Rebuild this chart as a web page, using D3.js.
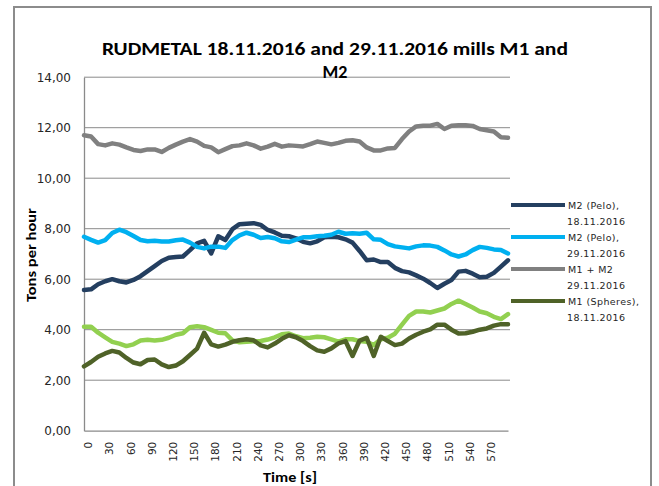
<!DOCTYPE html>
<html><head><meta charset="utf-8">
<script src="https://cdn.jsdelivr.net/npm/d3@7"></script>
<style>
html,body{margin:0;padding:0;background:#fff;}
svg{display:block;}
</style></head>
<body>
<svg id="chart" width="659" height="486"></svg>
<script>
// ---- data ----
const timeSec = [0,10,20,30,40,50,60,70,80,90,100,110,120,130,140,150,160,170,180,190,200,210,220,230,240,250,260,270,280,290,300,310,320,330,340,350,360,370,380,390,400,410,420,430,440,450,460,470,480,490,500,510,520,530,540,550,560,570,580,590,600];
const xTickLabels = [0,30,60,90,120,150,180,210,240,270,300,330,360,390,420,450,480,510,540,570];
const yTickValues = [0,2,4,6,8,10,12,14];

const m2Pelo1811 = [5.57,5.60,5.80,5.92,6.00,5.92,5.87,5.97,6.12,6.32,6.52,6.72,6.85,6.88,6.90,7.15,7.42,7.52,7.02,7.70,7.55,7.98,8.18,8.20,8.22,8.15,7.95,7.85,7.72,7.70,7.62,7.48,7.42,7.50,7.66,7.68,7.66,7.58,7.45,7.12,6.75,6.78,6.68,6.68,6.45,6.32,6.27,6.15,6.02,5.85,5.65,5.82,5.97,6.30,6.33,6.22,6.08,6.10,6.25,6.50,6.75];
const m2Pelo2911 = [7.68,7.56,7.45,7.55,7.83,7.96,7.86,7.71,7.55,7.50,7.52,7.49,7.49,7.54,7.57,7.45,7.28,7.22,7.29,7.29,7.24,7.55,7.74,7.84,7.76,7.63,7.67,7.62,7.50,7.47,7.57,7.66,7.66,7.70,7.72,7.76,7.88,7.80,7.82,7.80,7.84,7.58,7.56,7.39,7.30,7.26,7.22,7.30,7.34,7.33,7.28,7.14,6.98,6.90,6.98,7.15,7.28,7.24,7.18,7.16,7.02];
const m1m2_2911 = [11.70,11.65,11.35,11.30,11.38,11.33,11.22,11.12,11.08,11.14,11.14,11.04,11.20,11.33,11.45,11.55,11.45,11.28,11.22,11.03,11.15,11.27,11.30,11.38,11.30,11.17,11.25,11.36,11.25,11.30,11.28,11.26,11.35,11.45,11.40,11.34,11.40,11.48,11.50,11.45,11.22,11.10,11.10,11.18,11.20,11.55,11.85,12.05,12.08,12.08,12.15,11.95,12.08,12.10,12.10,12.07,11.95,11.90,11.85,11.62,11.60];
const m1Spheres1811 = [2.55,2.72,2.93,3.06,3.16,3.10,2.88,2.70,2.63,2.80,2.82,2.63,2.52,2.58,2.75,3.00,3.25,3.88,3.42,3.33,3.41,3.52,3.58,3.62,3.58,3.38,3.30,3.45,3.64,3.78,3.70,3.55,3.35,3.18,3.13,3.26,3.46,3.55,2.96,3.57,3.68,2.96,3.72,3.55,3.39,3.45,3.65,3.80,3.92,4.01,4.20,4.20,4.00,3.85,3.86,3.92,4.00,4.05,4.16,4.22,4.22];
const m1_2911 = [4.12,4.12,3.88,3.70,3.52,3.45,3.35,3.42,3.57,3.60,3.57,3.60,3.68,3.80,3.86,4.10,4.14,4.10,3.99,3.88,3.86,3.58,3.50,3.52,3.54,3.55,3.61,3.70,3.82,3.85,3.74,3.66,3.68,3.72,3.70,3.62,3.53,3.62,3.62,3.55,3.52,3.39,3.62,3.68,3.84,4.20,4.55,4.72,4.72,4.68,4.76,4.84,5.02,5.15,5.02,4.88,4.72,4.65,4.51,4.42,4.62];

const seriesNames = [["M2 (Pelo),","18.11.2016"],["M2 (Pelo),","29.11.2016"],["M1 + M2","29.11.2016"],["M1 (Spheres),","18.11.2016"]];
const seriesColors = ["#243F60","#00B0F0","#808080","#4F6228"];
const extraColor = "#92D050";
const titleLines = ["RUDMETAL 18.11.2016 and 29.11.2016 mills M1 and","M2"];

// ---- drawing ----
const svg = d3.select("#chart");
const L = 84, R = 508, T = 77.2, B = 430.7;

// outer frame
svg.append("rect").attr("x",14).attr("y",7).attr("width",637).attr("height",500)
  .attr("fill","none").attr("stroke","#8c8c8c").attr("stroke-width",2);

const x = d3.scaleLinear().domain([0,600]).range([L,R]);
const y = d3.scaleLinear().domain([0,14]).range([B,T]);

// gridlines
svg.append("g").selectAll("line").data(yTickValues.filter(v=>v>0)).join("line")
  .attr("x1",L).attr("x2",R+2).attr("y1",d=>y(d)).attr("y2",d=>y(d))
  .attr("stroke","#8a8a8a").attr("stroke-width",1);

// y axis
const fmt = v => d3.format(".2f")(v).replace(".",",");
const yAxis = svg.append("g").attr("transform",`translate(${L},0)`)
  .call(d3.axisLeft(y).tickValues(yTickValues).tickFormat(fmt).tickSize(0).tickPadding(13));
yAxis.select(".domain").attr("stroke","#8a8a8a").attr("stroke-width",1.3);
yAxis.selectAll("text").attr("font-family","DejaVu Sans, Verdana, sans-serif").attr("font-size",12).attr("fill","#262626");

// x axis
const xAxis = svg.append("g").attr("transform",`translate(0,${B})`)
  .call(d3.axisBottom(x).tickValues(xTickLabels).tickFormat(d=>d).tickSize(0).tickSizeOuter(0));
xAxis.select(".domain").attr("stroke","#8a8a8a").attr("stroke-width",1.3);
xAxis.selectAll(".tick text")
  .attr("font-family","DejaVu Sans, Verdana, sans-serif").attr("font-size",10.5).attr("fill","#262626")
  .attr("text-anchor","end").attr("y",0).attr("dy","0.35em")
  .attr("transform","translate(4,11) rotate(-90)");

// lines
const line = d3.line().x((d,i)=>x(timeSec[i])).y(d=>y(d));
const drawOrder = [
  {data:m1_2911,color:extraColor},
  {data:m2Pelo1811,color:seriesColors[0]},
  {data:m2Pelo2911,color:seriesColors[1]},
  {data:m1m2_2911,color:seriesColors[2]},
  {data:m1Spheres1811,color:seriesColors[3]}
];
svg.append("g").selectAll("path").data(drawOrder).join("path")
  .attr("d",d=>line(d.data)).attr("fill","none").attr("stroke",d=>d.color)
  .attr("stroke-width",4.5).attr("stroke-linejoin","round").attr("stroke-linecap","round");

// title
svg.append("g").selectAll("text").data(titleLines).join("text")
  .attr("x",335).attr("y",(d,i)=>55+i*23).attr("text-anchor","middle")
  .attr("font-family","Carlito, 'Liberation Sans', Arial, sans-serif").attr("font-weight","bold")
  .attr("font-size",18).attr("fill","#000")
  .attr("textLength",(d,i)=>i===0?466:null).attr("lengthAdjust","spacingAndGlyphs")
  .text(d=>d);

// axis titles
svg.append("text").attr("transform","translate(36,255) rotate(-90)").attr("text-anchor","middle")
  .attr("font-family","Carlito, 'Liberation Sans', Arial, sans-serif").attr("font-weight","bold")
  .attr("font-size",14).attr("textLength",94).attr("lengthAdjust","spacingAndGlyphs").text("Tons per hour");
svg.append("text").attr("x",290).attr("y",482).attr("text-anchor","middle")
  .attr("font-family","Carlito, 'Liberation Sans', Arial, sans-serif").attr("font-weight","bold")
  .attr("font-size",14).attr("textLength",54).attr("lengthAdjust","spacingAndGlyphs").text("Time [s]");

// legend
const leg = svg.append("g").selectAll("g").data(seriesNames).join("g")
  .attr("transform",(d,i)=>`translate(510,${205+i*32})`);
leg.append("line").attr("x1",1).attr("x2",55).attr("y1",0).attr("y2",0)
  .attr("stroke",(d,i)=>seriesColors[i]).attr("stroke-width",4);
leg.append("text").attr("x",58).attr("y",4)
  .attr("font-family","DejaVu Sans, Verdana, sans-serif").attr("font-size",9.5).attr("letter-spacing",0.4).attr("fill","#262626")
  .text(d=>d[0]);
leg.append("text").attr("x",57).attr("y",20)
  .attr("font-family","DejaVu Sans, Verdana, sans-serif").attr("font-size",9.5).attr("letter-spacing",0.4).attr("fill","#262626")
  .text(d=>d[1]);
</script>
</body></html>
